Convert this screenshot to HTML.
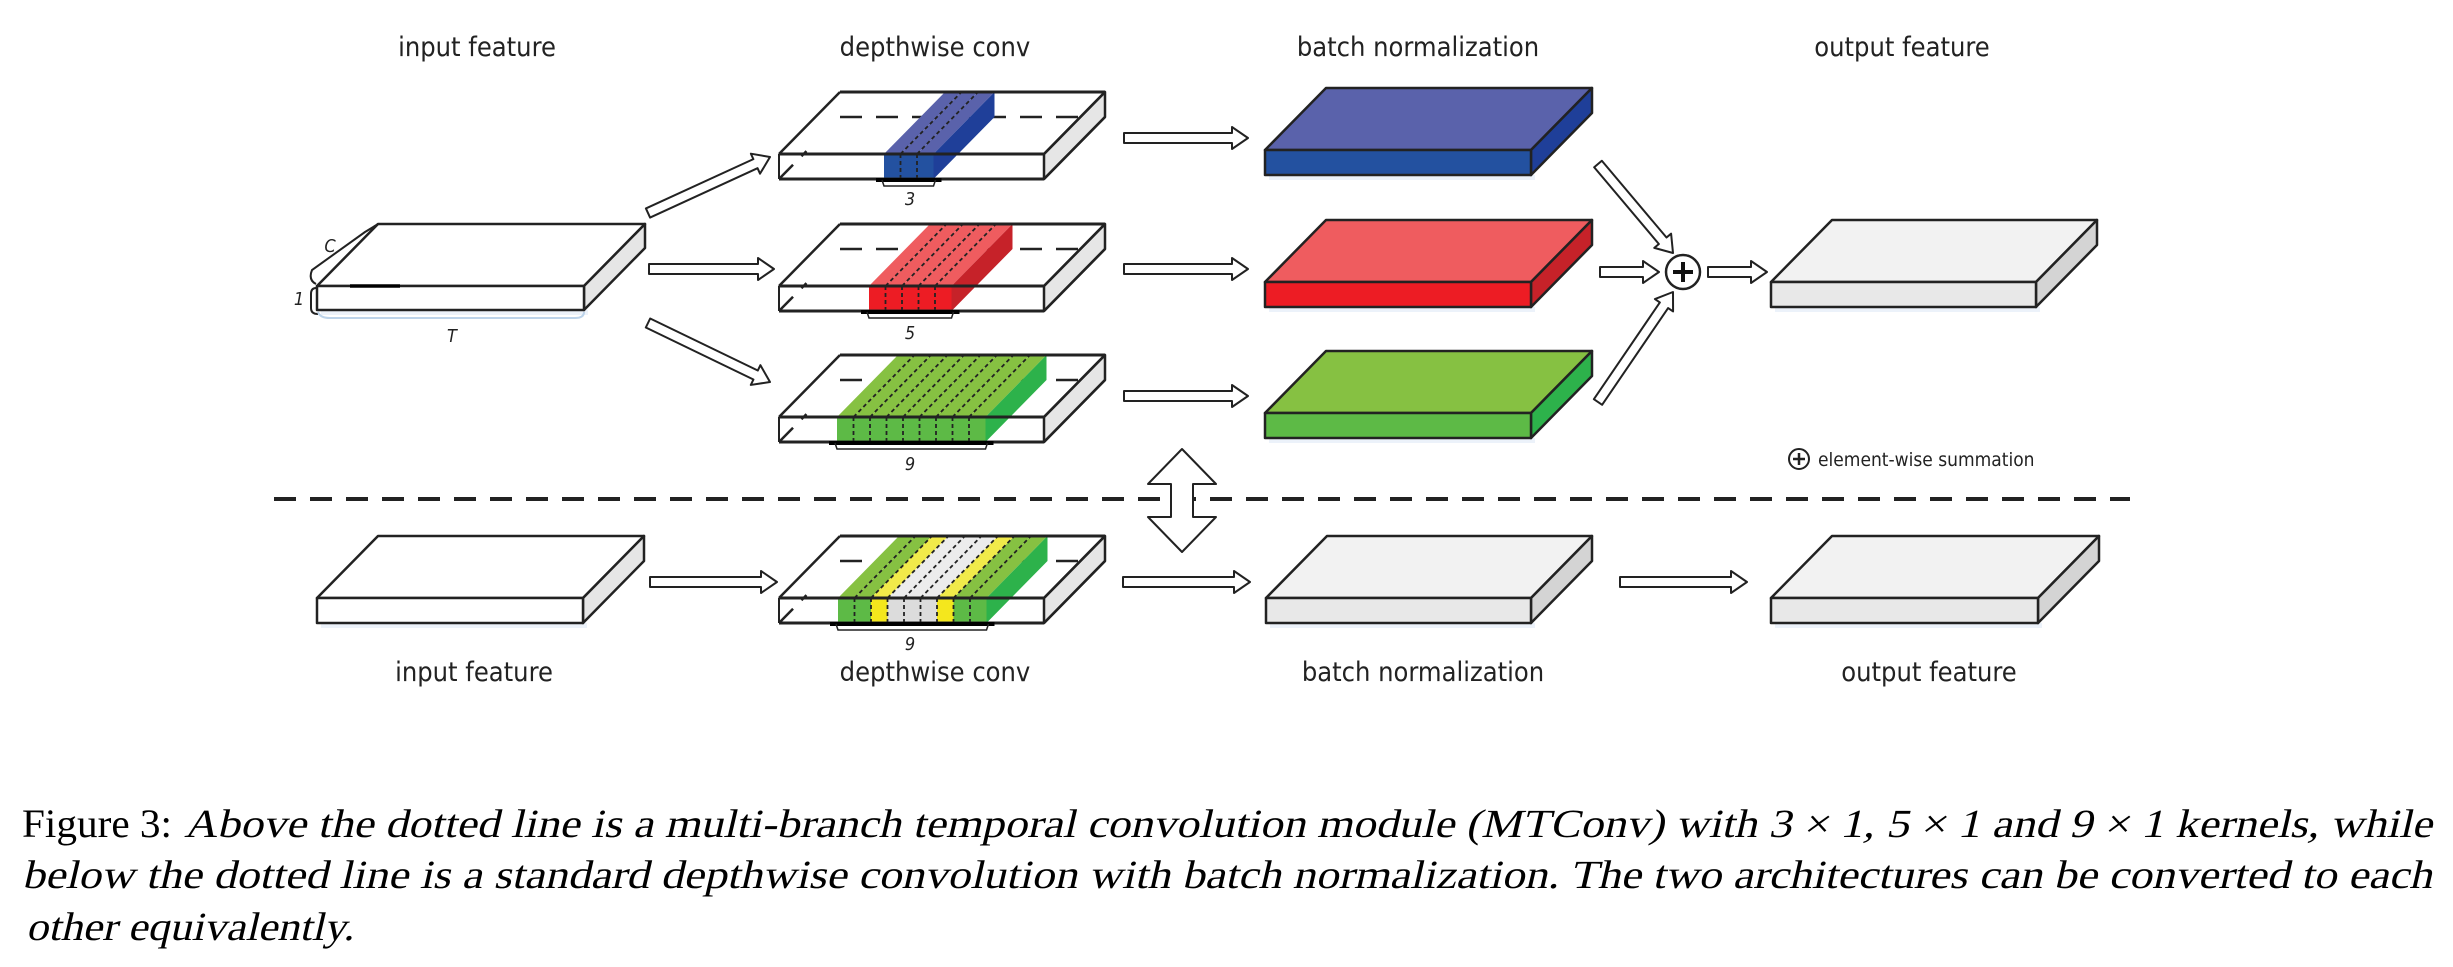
<!DOCTYPE html>
<html><head><meta charset="utf-8"><style>
html,body{margin:0;padding:0;background:#fff;}
svg{display:block;}
.lb{font-family:"DejaVu Sans Condensed","Liberation Sans Narrow","Liberation Sans",sans-serif;font-size:27px;fill:#222;}
.sm{font-family:"DejaVu Sans Condensed","Liberation Sans",sans-serif;font-size:18px;fill:#222;font-style:italic;}
.cap{font-family:"Liberation Serif",serif;font-size:40px;fill:#000;font-style:normal;}
</style></head><body>
<svg id="s" width="2453" height="967" viewBox="0 0 2453 967" xmlns="http://www.w3.org/2000/svg">
<g id="g"></g>
<text class="lb" x="477" y="56" text-anchor="middle">input feature</text>
<text class="lb" x="935" y="56" text-anchor="middle">depthwise conv</text>
<text class="lb" x="1418" y="56" text-anchor="middle">batch normalization</text>
<text class="lb" x="1902" y="56" text-anchor="middle">output feature</text>
<text class="lb" x="474" y="681" text-anchor="middle">input feature</text>
<text class="lb" x="935" y="681" text-anchor="middle">depthwise conv</text>
<text class="lb" x="1423" y="681" text-anchor="middle">batch normalization</text>
<text class="lb" x="1929" y="681" text-anchor="middle">output feature</text>
<text class="sm" x="910" y="205" text-anchor="middle">3</text>
<text class="sm" x="910" y="339" text-anchor="middle">5</text>
<text class="sm" x="910" y="470" text-anchor="middle">9</text>
<text class="sm" x="910" y="650" text-anchor="middle">9</text>
<text class="sm" x="330" y="252" text-anchor="middle">C</text>
<text class="sm" x="299" y="305" text-anchor="middle">1</text>
<text class="sm" x="452" y="342" text-anchor="middle">T</text>
<text x="1818" y="466" style="font-family:'DejaVu Sans Condensed','Liberation Sans',sans-serif;font-size:19px;fill:#222">element-wise summation</text>
<text class="cap" x="22" y="837" textLength="150" lengthAdjust="spacingAndGlyphs">Figure 3:</text>
<g transform="translate(0,837) skewX(-13)"><text class="cap" x="184" y="0" textLength="2248" lengthAdjust="spacingAndGlyphs">Above the dotted line is a multi-branch temporal convolution module (MTConv) with 3 × 1, 5 × 1 and 9 × 1 kernels, while</text></g>
<g transform="translate(0,888) skewX(-13)"><text class="cap" x="22" y="0" textLength="2410" lengthAdjust="spacingAndGlyphs">below the dotted line is a standard depthwise convolution with batch normalization. The two architectures can be converted to each</text></g>
<g transform="translate(0,940) skewX(-13)"><text class="cap" x="26" y="0" textLength="328" lengthAdjust="spacingAndGlyphs">other equivalently.</text></g>
</svg>
<script>
var g=document.getElementById('g'),NS='http://www.w3.org/2000/svg';
function el(t,a){var e=document.createElementNS(NS,t);for(var k in a)e.setAttribute(k,a[k]);g.appendChild(e);return e;}
function poly(pts,fill,st,sw,extra){var a={points:pts.map(function(p){return p.join(',')}).join(' '),fill:fill,stroke:st||'#222','stroke-width':sw||2.5,'stroke-linejoin':'round'};for(var k in extra||{})a[k]=extra[k];return el('polygon',a);}
function line(x1,y1,x2,y2,sw,dash,c){var a={x1:x1,y1:y1,x2:x2,y2:y2,stroke:c||'#222','stroke-width':sw||2.5};if(dash)a['stroke-dasharray']=dash;return el('line',a);}
var DX=61,DY=-62;
function slab(x,y,w,h,top,front,side,sw){
  el('rect',{x:x+4,y:y+h,width:w,height:5,fill:'#dfeaf7',opacity:0.6});
  poly([[x,y],[x+DX,y+DY],[x+w+DX,y+DY],[x+w,y]],top,null,sw);
  poly([[x+w,y],[x+w+DX,y+DY],[x+w+DX,y+h+DY],[x+w,y+h]],side,null,sw);
  poly([[x,y],[x+w,y],[x+w,y+h],[x,y+h]],front,null,sw);
}
function arrow(x1,y1,x2,y2,sw,hw,hl){
  var dx=x2-x1,dy=y2-y1,L=Math.hypot(dx,dy),ux=dx/L,uy=dy/L,nx=-uy,ny=ux;
  var bx=x2-ux*hl,by=y2-uy*hl;
  poly([[x1+nx*sw,y1+ny*sw],[bx+nx*sw,by+ny*sw],[bx+nx*hw,by+ny*hw],[x2,y2],[bx-nx*hw,by-ny*hw],[bx-nx*sw,by-ny*sw],[x1-nx*sw,y1-ny*sw]],'#fff','#222',2);
}
function dwbox(x,y,w,h,bx,cells,cols){
  line(x+DX,y+h+DY,x+w+DX,y+h+DY,2.5,'22 14');
  line(x,y+h,x+DX*0.45,y+h+DY*0.45,2.5,'20 12');
  poly([[x+w,y],[x+w+DX,y+DY],[x+w+DX,y+h+DY],[x+w,y+h]],'#e6e6e6',null,2.5);
  var cw=16.5,n=cells;
  for(var i=0;i<n;i++){
    var cx=bx+i*cw,c=cols[i];
    poly([[cx,y],[cx+DX,y+DY],[cx+cw+DX,y+DY],[cx+cw,y]],c[0],'none',0);
    el('rect',{x:cx,y:y,width:cw+0.5,height:h,fill:c[1]});
  }
  var ex=bx+n*cw,last=cols[n-1];
  poly([[ex,y],[ex+DX,y+DY],[ex+DX,y+h+DY],[ex,y+h]],last[2],'none',0);
  for(var i=1;i<n;i++){var cx=bx+i*cw;line(cx,y,cx,y+h,1.8,'4 3');line(cx,y,cx+DX,y+DY,1.8,'4 3');}
  line(x,y,x+w,y,3);line(x,y+h,x+w,y+h,3);line(x,y,x,y+h,2);line(x+w,y,x+w,y+h,2);
  line(x,y,x+DX,y+DY,2.5);line(x+DX,y+DY,x+w+DX,y+DY,3);line(x+w,y,x+w+DX,y+DY,2.5);
  line(x+w,y+h,x+w+DX,y+h+DY,2.5);line(x+w+DX,y+DY,x+w+DX,y+h+DY,2);
  line(bx-8,y+h+1,ex+8,y+h+1,4,null,'#000');
  el('path',{d:'M'+(bx-2)+','+(y+h+1)+' L'+bx+','+(y+h+7)+' L'+ex+','+(y+h+7)+' L'+(ex+2)+','+(y+h+1),fill:'none',stroke:'#222','stroke-width':1.5});
}
var B=[['#5a62ab','#2351a0','#1f3f99']],R=[['#ef5c5f','#ed1c24','#c62229']],Gc=[['#86c142','#5dba46','#2db24b']];
function rep(c,n){var a=[];for(var i=0;i<n;i++)a.push(c[0]);return a;}
slab(317,286,267,24,'#fff','#fff','#e6e6e6',2.5);
line(350,286,400,286,3.5,null,'#000');
el('path',{d:'M316,284 Q308,280 312,270 L365,232 Q375,226 378,224',fill:'none',stroke:'#222','stroke-width':2});
el('path',{d:'M316,288 Q311,288 311,294 L311,308 Q311,314 318,314',fill:'none',stroke:'#222','stroke-width':2});
el('path',{d:'M318,312 Q320,318 330,318 L575,318 Q584,318 584,312',fill:'none',stroke:'#bcd3ea','stroke-width':2});
dwbox(779,154,265,25,884,3,rep(B,3));
dwbox(779,286,265,25,869,5,rep(R,5));
dwbox(779,417,265,25,837,9,rep(Gc,9));
var gr=['#86c142','#5dba46','#2db24b'],ye=['#f1ea4a','#f4e71d','#e5d800'],gy=['#ececec','#dcdcdc','#d0d0d0'];
dwbox(779,598,265,25,838,9,[gr,gr,ye,gy,gy,gy,ye,gr,gr]);
slab(1265,150,266,25,B[0][0],B[0][1],B[0][2],2.5);
slab(1265,282,266,25,R[0][0],R[0][1],R[0][2],2.5);
slab(1265,413,266,25,Gc[0][0],Gc[0][1],Gc[0][2],2.5);
slab(1771,282,265,25,'#f2f2f2','#e8e8e8','#d4d4d4',2.5);
slab(317,598,266,25,'#fff','#fff','#e6e6e6',2.5);
slab(1266,598,265,25,'#f2f2f2','#e8e8e8','#d4d4d4',2.5);
slab(1771,598,267,25,'#f2f2f2','#e8e8e8','#d4d4d4',2.5);
arrow(648,213,770,157,5,11,16);
arrow(649,269,774,269,5,11,16);
arrow(648,323,770,382,5,11,16);
[138,269,396].forEach(function(y){arrow(1124,y,1248,y,5,11,16);});
arrow(1598,164,1673,253,5,11,16);
arrow(1598,402,1673,292,5,11,16);
arrow(1600,272,1659,272,5,11,16);
arrow(1708,272,1767,272,5,11,16);
arrow(650,582,777,582,5,11,16);
arrow(1123,582,1250,582,5,11,16);
arrow(1620,582,1747,582,5,11,16);
el('circle',{cx:1683,cy:272,r:17,fill:'#fff',stroke:'#222','stroke-width':2.5});
line(1673,272,1693,272,4,null,'#111');line(1683,262,1683,282,4,null,'#111');
el('circle',{cx:1799,cy:459,r:10,fill:'#fff',stroke:'#222','stroke-width':2});
line(1793,459,1805,459,2.5);line(1799,453,1799,465,2.5);
line(274,499,2130,499,4,'22 14','#222');
poly([[1182,449],[1216,484],[1193,484],[1193,517],[1216,517],[1182,552],[1148,517],[1171,517],[1171,484],[1148,484]],'#fff','#222',2);
</script>
</body></html>
